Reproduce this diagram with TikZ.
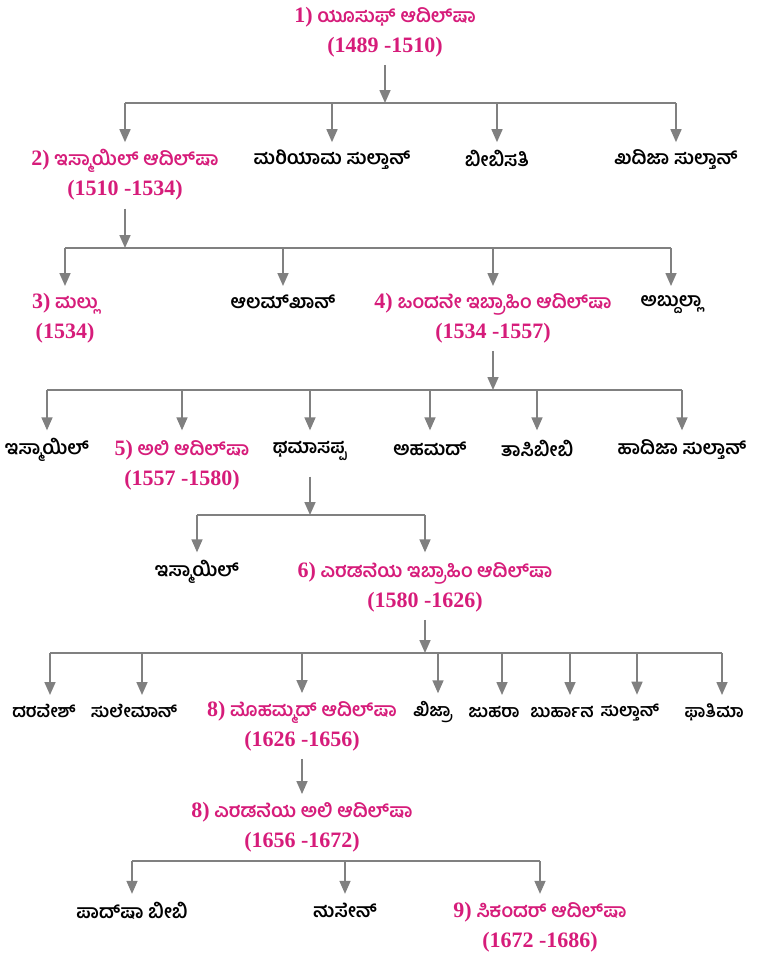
\documentclass[tikz,border=0pt]{standalone}
\usepackage{fontspec}
\setmainfont{Hind Mysuru}[Script=Kannada]
\newfontfamily\dg{Liberation Serif}
\usetikzlibrary{arrows.meta}
\definecolor{pinkc}{RGB}{214,28,122}
\definecolor{grayc}{RGB}{128,128,128}
\newcommand\zw{^^^^200c}
\newcommand\st{\rule[-4bp]{0pt}{18bp}}
\newcommand\dt[1]{{\dg\bfseries\fontsize{22bp}{30bp}\selectfont #1}}
\tikzset{
  person/.style={font=\fontsize{19bp}{30bp}\selectfont\bfseries, text=black, align=center,
    execute at begin node=\st, execute at end node=\st,
    inner xsep=0pt, inner ysep=8bp, outer sep=0pt},
  ruler/.style={person, text=pinkc},
  narrow/.style={font=\fontsize{17.5bp}{30bp}\selectfont\bfseries},
  arr/.style={draw=grayc, line width=1.6bp, -{Triangle[width=11bp,length=13bp]}},
  barline/.style={draw=grayc, line width=1.6bp}
}
\begin{document}
\begin{tikzpicture}[x=1bp,y=-1bp]
\useasboundingbox (0,0) rectangle (765,953);
% generation 1
\node[ruler] (n1) at (385,32) {\dt{1)} ಯೂಸುಫ್ ಆದಿಲ್\zw ಷಾ\\\dt{(1489 -1510)}};
\coordinate (bar1) at (385,103);
% generation 2
\node[ruler]  (n2) at (125,175) {\dt{2)} ಇಸ್ಮಾಯಿಲ್ ಆದಿಲ್\zw ಷಾ\\\dt{(1510 -1534)}};
\node[person] (b1) at (332,160) {ಮರಿಯಾಮ ಸುಲ್ತಾನ್};
\node[person] (b2) at (497,160) {ಬೀಬಿಸತಿ};
\node[person] (b3) at (676,160) {ಖದಿಜಾ ಸುಲ್ತಾನ್};
\draw[arr] (n1.south) -- (n1.south |- bar1);
\draw[barline] (n2.north |- bar1) -- (b3.north |- bar1);
\foreach \c in {n2,b1,b2,b3} \draw[arr] (\c.north |- bar1) -- (\c.north |- b1.north);
% generation 3
\coordinate (bar2) at (125,248);
\node[ruler]  (c1) at (65,318) {\dt{3)} ಮಲ್ಲು\\\dt{(1534)}};
\node[person] (c2) at (283,303) {ಆಲಮ್\zw ಖಾನ್};
\node[ruler]  (c3) at (493,318) {\dt{4)} ಒಂದನೇ ಇಬ್ರಾಹಿಂ ಆದಿಲ್\zw ಷಾ\\\dt{(1534 -1557)}};
\node[person] (c4) at (671,303) {ಅಬ್ದುಲ್ಲಾ};
\draw[arr] (n2.south) -- (n2.south |- bar2);
\draw[barline] (c1.north |- bar2) -- (c4.north |- bar2);
\foreach \c in {c1,c2,c3,c4} \draw[arr] (\c.north |- bar2) -- (\c.north |- c2.north);
% generation 4
\coordinate (bar3) at (493,390);
\node[person] (d1) at (47,450) {ಇಸ್ಮಾಯಿಲ್};
\node[ruler]  (d2) at (182,465) {\dt{5)} ಅಲಿ ಆದಿಲ್\zw ಷಾ\\\dt{(1557 -1580)}};
\node[person] (d3) at (310,450) {ಥಮಾಸಪ್ಪ};
\node[person] (d4) at (430,450) {ಅಹಮದ್};
\node[person] (d5) at (537,450) {ತಾಸಿಬೀಬಿ};
\node[person] (d6) at (682,450) {ಹಾದಿಜಾ ಸುಲ್ತಾನ್};
\draw[arr] (c3.south) -- (c3.south |- bar3);
\draw[barline] (d1.north |- bar3) -- (d6.north |- bar3);
\foreach \c in {d1,d2,d3,d4,d5,d6} \draw[arr] (\c.north |- bar3) -- (\c.north |- d1.north);
% generation 5
\coordinate (bar4) at (310,515);
\node[person] (e1) at (197,572) {ಇಸ್ಮಾಯಿಲ್};
\node[ruler]  (e2) at (425,587) {\dt{6)} ಎರಡನೆಯ ಇಬ್ರಾಹಿಂ ಆದಿಲ್\zw ಷಾ\\\dt{(1580 -1626)}};
\draw[arr, shorten <=8bp] (d3.south) -- (d3.south |- bar4);
\draw[barline] (e1.north |- bar4) -- (e2.north |- bar4);
\foreach \c in {e1,e2} \draw[arr] (\c.north |- bar4) -- (\c.north |- e1.north);
% generation 6
\coordinate (bar5) at (425,653);
\node[person, narrow] (f1) at (44,712) {ದರವೇಶ್};
\node[person, narrow] (f2) at (134,712) {ಸುಲೇಮಾನ್};
\node[ruler] (f3) at (302,726) {\dt{8)} ಮೊಹಮ್ಮದ್ ಆದಿಲ್\zw ಷಾ\\\dt{(1626 -1656)}};
\node[person, narrow] (f4) at (433,712) {ಖಿಜ್ರಾ};
\node[person, narrow] (f5) at (494,712) {ಜುಹರಾ};
\node[person, narrow] (f6) at (562,712) {ಬುರ್ಹಾನ};
\node[person, narrow] (f7) at (630,712) {ಸುಲ್ತಾನ್};
\node[person, narrow] (f8) at (714,712) {ಫಾತಿಮಾ};
\draw[arr] (e2.south) -- (e2.south |- bar5);
\draw[barline] ([xshift=6bp]f1.north |- bar5) -- ([xshift=8bp]f8.north |- bar5);
\draw[arr] (f3.north |- bar5) -- (f3.north);
\foreach \c/\dx in {f1/6,f2/8,f4/5,f5/8,f6/8,f7/7,f8/8}
  \draw[arr] ([xshift=\dx bp]\c.north |- bar5) -- ([xshift=\dx bp]\c.north);
% generation 7
\node[ruler]  (g1) at (302,827) {\dt{8)} ಎರಡನೆಯ ಅಲಿ ಆದಿಲ್\zw ಷಾ\\\dt{(1656 -1672)}};
\draw[arr] (f3.south) -- (g1.north);
% generation 8
\coordinate (bar6) at (302,861);
\node[person] (h1) at (132,912) {ಪಾದ್\zw ಷಾ ಬೀಬಿ};
\node[person] (h2) at (345,912) {ಹುಸೇನ್};
\node[ruler]  (h3) at (540,927) {\dt{9)} ಸಿಕಂದರ್ ಆದಿಲ್\zw ಷಾ\\\dt{(1672 -1686)}};
\draw[barline] (g1.south) -- (g1.south |- bar6);
\draw[barline] (h1.north |- bar6) -- (h3.north |- bar6);
\foreach \c in {h1,h2,h3} \draw[arr] (\c.north |- bar6) -- (\c.north |- h1.north);
\end{tikzpicture}
\end{document}
